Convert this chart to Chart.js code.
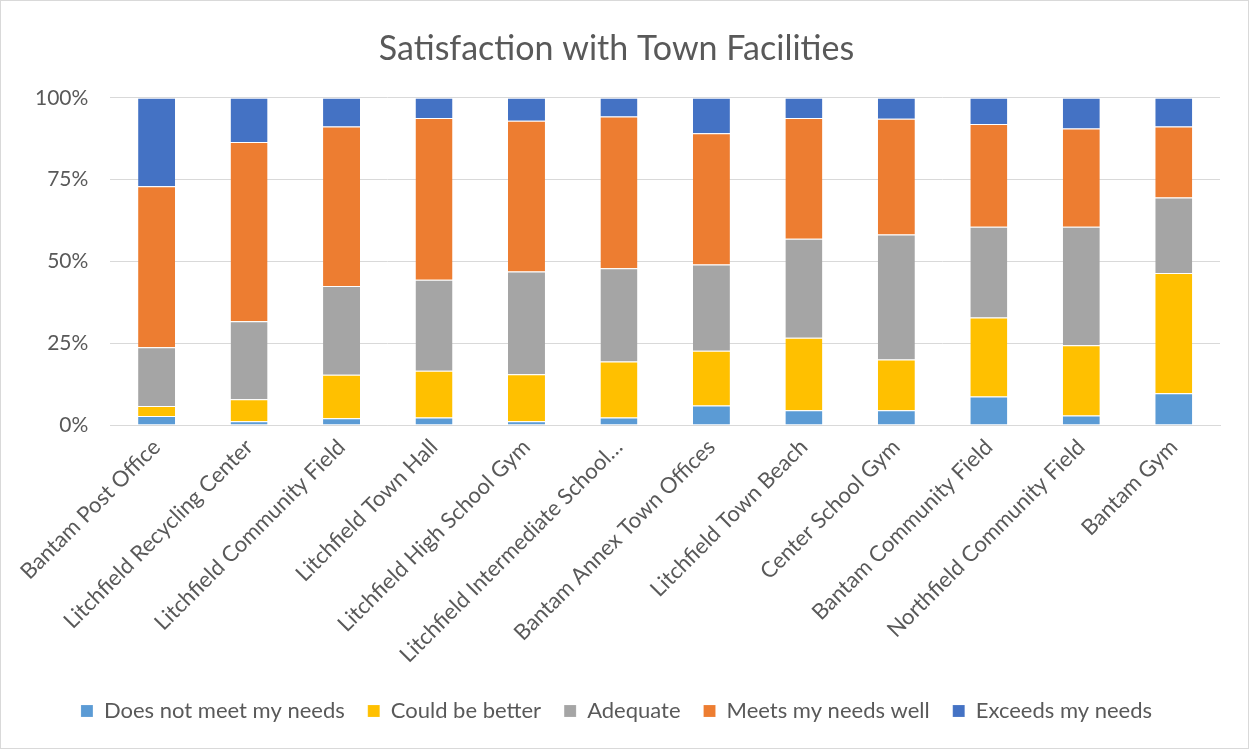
<!DOCTYPE html>
<html><head><meta charset="utf-8">
<script src="https://cdn.jsdelivr.net/npm/chart.js@4/dist/chart.umd.min.js"></script>
<style>
html,body{margin:0;padding:0;background:#fff;}
#wrap{position:absolute;left:0;top:0;width:1247px;height:747px;border:1px solid #d9d9d9;}
</style></head>
<body><div id="wrap"><canvas id="c" width="1247" height="747"></canvas></div>
<script>
const categories = ["Bantam Post Office","Litchfield Recycling Center","Litchfield Community Field","Litchfield Town Hall","Litchfield High School Gym","Litchfield Intermediate School…","Bantam Annex Town Offices","Litchfield Town Beach","Center School Gym","Bantam Community Field","Northfield Community Field","Bantam Gym"];
const doesNotMeet = [2.8,1.2,2.1,2.3,1.2,2.3,6.0,4.5,4.5,8.7,2.9,9.7];
const couldBeBetter = [3.0,6.7,13.3,14.3,14.3,17.1,16.7,22.2,15.5,24.2,21.5,36.8];
const adequate = [18.0,23.8,27.1,27.8,31.4,28.5,26.4,30.2,38.2,27.7,36.2,23.0];
const meetsWell = [49.2,54.8,48.7,49.4,46.1,46.4,40.1,36.9,35.4,31.4,30.0,21.7];
const exceeds = [27.0,13.5,8.8,6.2,7.0,5.7,10.8,6.2,6.4,8.0,9.4,8.8];
const yTicks = [0,25,50,75,100];

const FONT = "Lato, 'Open Sans', sans-serif";
const TXT = '#595959';
function ds(label, data, color){
  return {label, data, backgroundColor:color, borderColor:'rgba(255,255,255,0.6)', borderWidth:{top:1,bottom:0,left:0,right:0}, barPercentage:0.4, categoryPercentage:1.0};
}
new Chart(document.getElementById('c'), {
  type:'bar',
  data:{labels:categories, datasets:[
    ds('Does not meet my needs', doesNotMeet, '#5B9BD5'),
    ds('Could be better', couldBeBetter, '#FFC000'),
    ds('Adequate', adequate, '#A5A5A5'),
    ds('Meets my needs well', meetsWell, '#ED7D31'),
    ds('Exceeds my needs', exceeds, '#4472C4')
  ]},
  options:{
    responsive:false, animation:false,
    layout:{padding:{left:12,right:28,top:20,bottom:16}},
    plugins:{
      title:{display:true, text:'Satisfaction with Town Facilities', color:TXT, font:{family:FONT,size:34,weight:'normal'}, padding:{top:8,bottom:28}},
      legend:{position:'bottom', labels:{color:TXT, font:{family:FONT,size:22}, boxWidth:12, boxHeight:12, padding:23}},
      tooltip:{enabled:false}
    },
    scales:{
      x:{stacked:true, grid:{display:false, drawTicks:false}, border:{color:'#d9d9d9'},
         ticks:{color:TXT, font:{family:FONT,size:22}, maxRotation:45, minRotation:45, padding:9, autoSkip:false}},
      y:{stacked:true, min:0, max:100, grid:{color:'#d9d9d9', drawTicks:false}, border:{display:false},
         afterBuildTicks:(s)=>{s.ticks = yTicks.map(v=>({value:v}));},
         ticks:{color:TXT, font:{family:FONT,size:21}, padding:22, callback:(v)=>v+'%'}}
    }
  }
});
</script></body></html>
